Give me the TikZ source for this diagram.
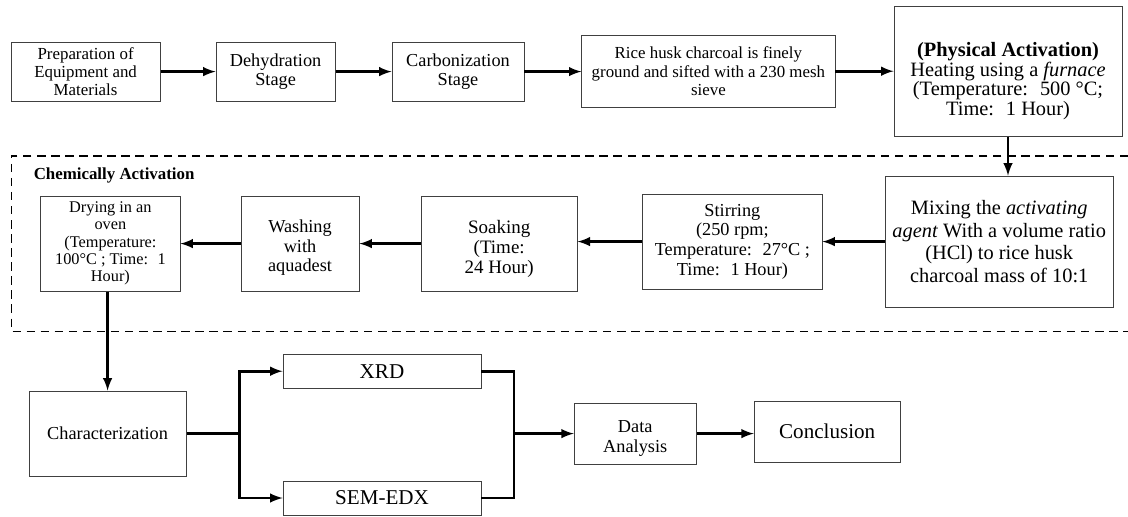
\documentclass[tikz,border=0pt]{standalone}
\usepackage{fontspec}
\setmainfont{Liberation Serif}

\begin{document}
\begin{tikzpicture}[
    box/.style={rectangle, draw=black!75, line width=0.6pt, align=center, inner sep=1pt},
    arrow/.style={line width=2pt, ->, >=latex},
    line/.style={line width=2pt},
    zone/.style={line width=0.8pt, dash pattern=on 6pt off 4pt}
]
\useasboundingbox (0,0) rectangle (28.2,-12.9);

% Preparation and physical activation
\node[box, minimum width=3.73cm, minimum height=1.48cm, font=\fontsize{12}{12.8}\selectfont] (prep) at (2.14,-1.79) {Preparation of\\Equipment and\\Materials};
\node[box, minimum width=2.98cm, minimum height=1.48cm, font=\fontsize{13}{14}\selectfont] (dehyd) at (6.89,-1.79) {Dehydration\\Stage};
\node[box, minimum width=3.3cm, minimum height=1.48cm, font=\fontsize{13}{14}\selectfont] (carbon) at (11.45,-1.79) {Carbonization\\Stage};
\node[box, minimum width=6.33cm, minimum height=1.8cm, font=\fontsize{12}{13}\selectfont] (sieve) at (17.71,-1.78) {Rice husk charcoal is finely\\ground and sifted with a 230 mesh\\sieve};
\node[box, minimum width=5.7cm, minimum height=3.25cm, font=\fontsize{14.5}{13.8}\selectfont] (phys) at (25.2,-1.78) {\rule{0pt}{24pt}\textbf{(Physical Activation)}\\Heating using a \textit{furnace}\\(Temperature:~ 500 °C;\\Time:~ 1 Hour)};

% Chemical activation
\node[box, minimum width=5.7cm, minimum height=3.28cm, font=\fontsize{14.5}{16}\selectfont] (mix) at (24.98,-6.04) {Mixing the \textit{activating}\\\textit{agent} With a volume ratio\\(HCl) to rice husk\\charcoal mass of 10:1};
\node[box, minimum width=4.48cm, minimum height=2.38cm, font=\fontsize{13}{14}\selectfont] (stir) at (18.31,-6.04) {Stirring\\(250 rpm;\\Temperature:~ 27°C ;\\Time:~ 1 Hour)};
\node[box, minimum width=3.9cm, minimum height=2.38cm, font=\fontsize{13.5}{14.5}\selectfont] (soak) at (12.48,-6.09) {\rule{0pt}{17pt}Soaking\\(Time:\\24 Hour)};
\node[box, minimum width=2.95cm, minimum height=2.38cm, font=\fontsize{13}{14}\selectfont] (wash) at (7.5,-6.09) {\rule{0pt}{15pt}Washing\\with\\aquadest};
\node[box, minimum width=3.48cm, minimum height=2.38cm, font=\fontsize{11.6}{12.3}\selectfont] (dry) at (2.76,-6.09) {Drying in an\\oven\\(Temperature:\\100°C ; Time:~ 1\\Hour)};

% Characterization and analysis
\node[box, minimum width=3.93cm, minimum height=2.13cm, font=\fontsize{13}{14}\selectfont] (char) at (2.69,-10.84) {Characterization};
\node[box, minimum width=4.95cm, minimum height=0.85cm, font=\fontsize{15}{16}\selectfont] (xrd) at (9.55,-9.28) {XRD};
\node[box, minimum width=4.95cm, minimum height=0.85cm, font=\fontsize{15}{16}\selectfont] (sem) at (9.55,-12.45) {SEM-EDX};
\node[box, minimum width=3.05cm, minimum height=1.53cm, font=\fontsize{13}{14}\selectfont] (data) at (15.88,-10.84) {\rule{0pt}{15pt}Data\\Analysis};
\node[box, minimum width=3.65cm, minimum height=1.53cm, font=\fontsize{15}{16}\selectfont] (concl) at (20.68,-10.79) {Conclusion};

\coordinate (split) at (5.98,-10.84);
\coordinate (join) at (12.85,-10.84);

% Chemical activation zone
\draw[zone] (28.2,-3.9) -- (0.28,-3.9) -- (0.28,-8.28) -- (28.2,-8.28);
\node[anchor=west, font=\fontsize{12}{13}\selectfont\bfseries] (zonelabel) at (0.72,-4.38) {Chemically Activation};

% Arrows
\draw[arrow] (prep) -- (dehyd);
\draw[arrow] (dehyd) -- (carbon);
\draw[arrow] (carbon.east) -- (carbon.east -| sieve.west);
\draw[arrow] (sieve.east) -- (sieve.east -| phys.west);
\draw[arrow] (phys.south) -- (phys.south |- mix.north);

\draw[arrow] (mix) -- (stir);
\draw[arrow] (stir.west) -- (stir.west -| soak.east);
\draw[arrow] (soak) -- (wash);
\draw[arrow] (wash) -- (dry);
\draw[arrow] (char.north |- dry.south) -- (char.north);

\draw[line] (char.east) -- (split);
\draw[arrow] (split) |- (xrd.west);
\draw[arrow] (split) |- (sem.west);
\draw[line] (xrd.east) -| (join);
\draw[line] (sem.east) -| (join);
\draw[arrow] (join) -- (data.west);
\draw[arrow] (data.east) -- (data.east -| concl.west);

\end{tikzpicture}
\end{document}
